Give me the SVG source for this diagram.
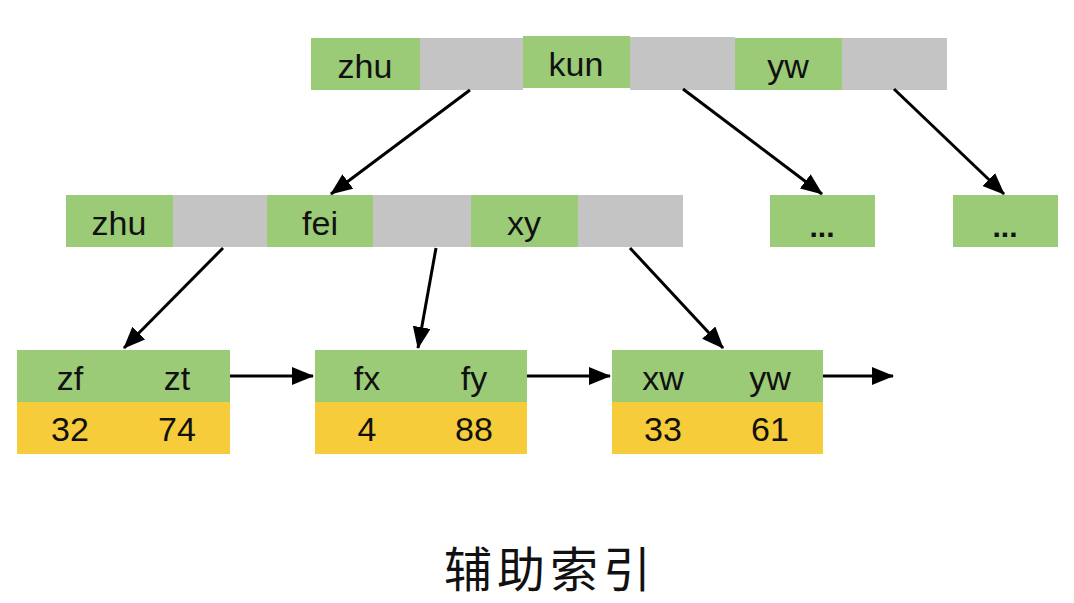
<svg xmlns="http://www.w3.org/2000/svg" width="1074" height="603" viewBox="0 0 1074 603">
<style>
.g{fill:#9BCB77}
.s{fill:#C4C4C4}
.y{fill:#F6CC3A}
.t{font-family:"Liberation Sans",Arial,sans-serif;font-size:34px;fill:#111;text-anchor:middle}
.d{font-family:"Liberation Sans",Arial,sans-serif;font-size:30px;font-weight:bold;fill:#111;text-anchor:middle}
.c{stroke:#000;stroke-width:3;fill:none;marker-end:url(#ah)}
.title{font-family:"Noto Sans CJK SC",sans-serif;font-size:48px;fill:#111;text-anchor:middle;letter-spacing:5px}
</style>
<defs>
<marker id="ah" markerUnits="userSpaceOnUse" markerWidth="22" markerHeight="18" refX="21" refY="9" orient="auto">
<path d="M0,0 L22,9 L0,18 z" fill="#000"/>
</marker>
</defs>
<rect width="1074" height="603" fill="#fff"/>
<g id="root">
<rect class="g" x="311" y="38" width="109" height="52"/>
<rect class="s" x="420" y="38" width="103" height="52"/>
<rect class="g" x="523" y="36" width="107" height="52"/>
<rect class="s" x="630" y="37" width="105" height="53"/>
<rect class="g" x="735" y="38" width="107" height="52"/>
<rect class="s" x="842" y="38" width="105" height="52"/>
<text class="t" x="365" y="78">zhu</text>
<text class="t" x="576" y="76">kun</text>
<text class="t" x="788" y="78">yw</text>
</g>
<g id="mid">
<rect class="g" x="66" y="195" width="107" height="52"/>
<rect class="s" x="173" y="195" width="94" height="52"/>
<rect class="g" x="267" y="195" width="106" height="52"/>
<rect class="s" x="373" y="195" width="98" height="52"/>
<rect class="g" x="471" y="195" width="107" height="52"/>
<rect class="s" x="578" y="195" width="105" height="52"/>
<text class="t" x="119" y="235">zhu</text>
<text class="t" x="320" y="235">fei</text>
<text class="t" x="524" y="235">xy</text>
</g>
<g id="more1">
<rect class="g" x="770" y="195" width="105" height="52"/>
<text class="d" x="822" y="237">...</text>
</g>
<g id="more2">
<rect class="g" x="953" y="195" width="105" height="52"/>
<text class="d" x="1005" y="237">...</text>
</g>
<g id="leaf1">
<rect class="g" x="17" y="350" width="213" height="52"/>
<rect class="y" x="17" y="402" width="213" height="52"/>
<text class="t" x="70" y="390">zf</text>
<text class="t" x="177" y="390">zt</text>
<text class="t" x="70" y="441">32</text>
<text class="t" x="177" y="441">74</text>
</g>
<g id="leaf2">
<rect class="g" x="315" y="350" width="212" height="52"/>
<rect class="y" x="315" y="402" width="212" height="52"/>
<text class="t" x="367" y="390">fx</text>
<text class="t" x="474" y="390">fy</text>
<text class="t" x="367" y="441">4</text>
<text class="t" x="474" y="441">88</text>
</g>
<g id="leaf3">
<rect class="g" x="612" y="350" width="211" height="52"/>
<rect class="y" x="612" y="402" width="211" height="52"/>
<text class="t" x="663" y="390">xw</text>
<text class="t" x="770" y="390">yw</text>
<text class="t" x="663" y="441">33</text>
<text class="t" x="770" y="441">61</text>
</g>
<g id="connectors">
<line class="c" x1="470" y1="90" x2="331" y2="194"/>
<line class="c" x1="683" y1="89" x2="822" y2="194"/>
<line class="c" x1="894" y1="89" x2="1004" y2="194"/>
<line class="c" x1="223" y1="248" x2="124" y2="348"/>
<line class="c" x1="436" y1="248" x2="418" y2="348"/>
<line class="c" x1="630" y1="248" x2="723" y2="348"/>
<line class="c" x1="230" y1="376" x2="313" y2="376"/>
<line class="c" x1="527" y1="376" x2="610" y2="376"/>
<line class="c" x1="823" y1="376" x2="893" y2="376"/>
</g>
<text class="title" x="550" y="587">辅助索引</text>
</svg>
